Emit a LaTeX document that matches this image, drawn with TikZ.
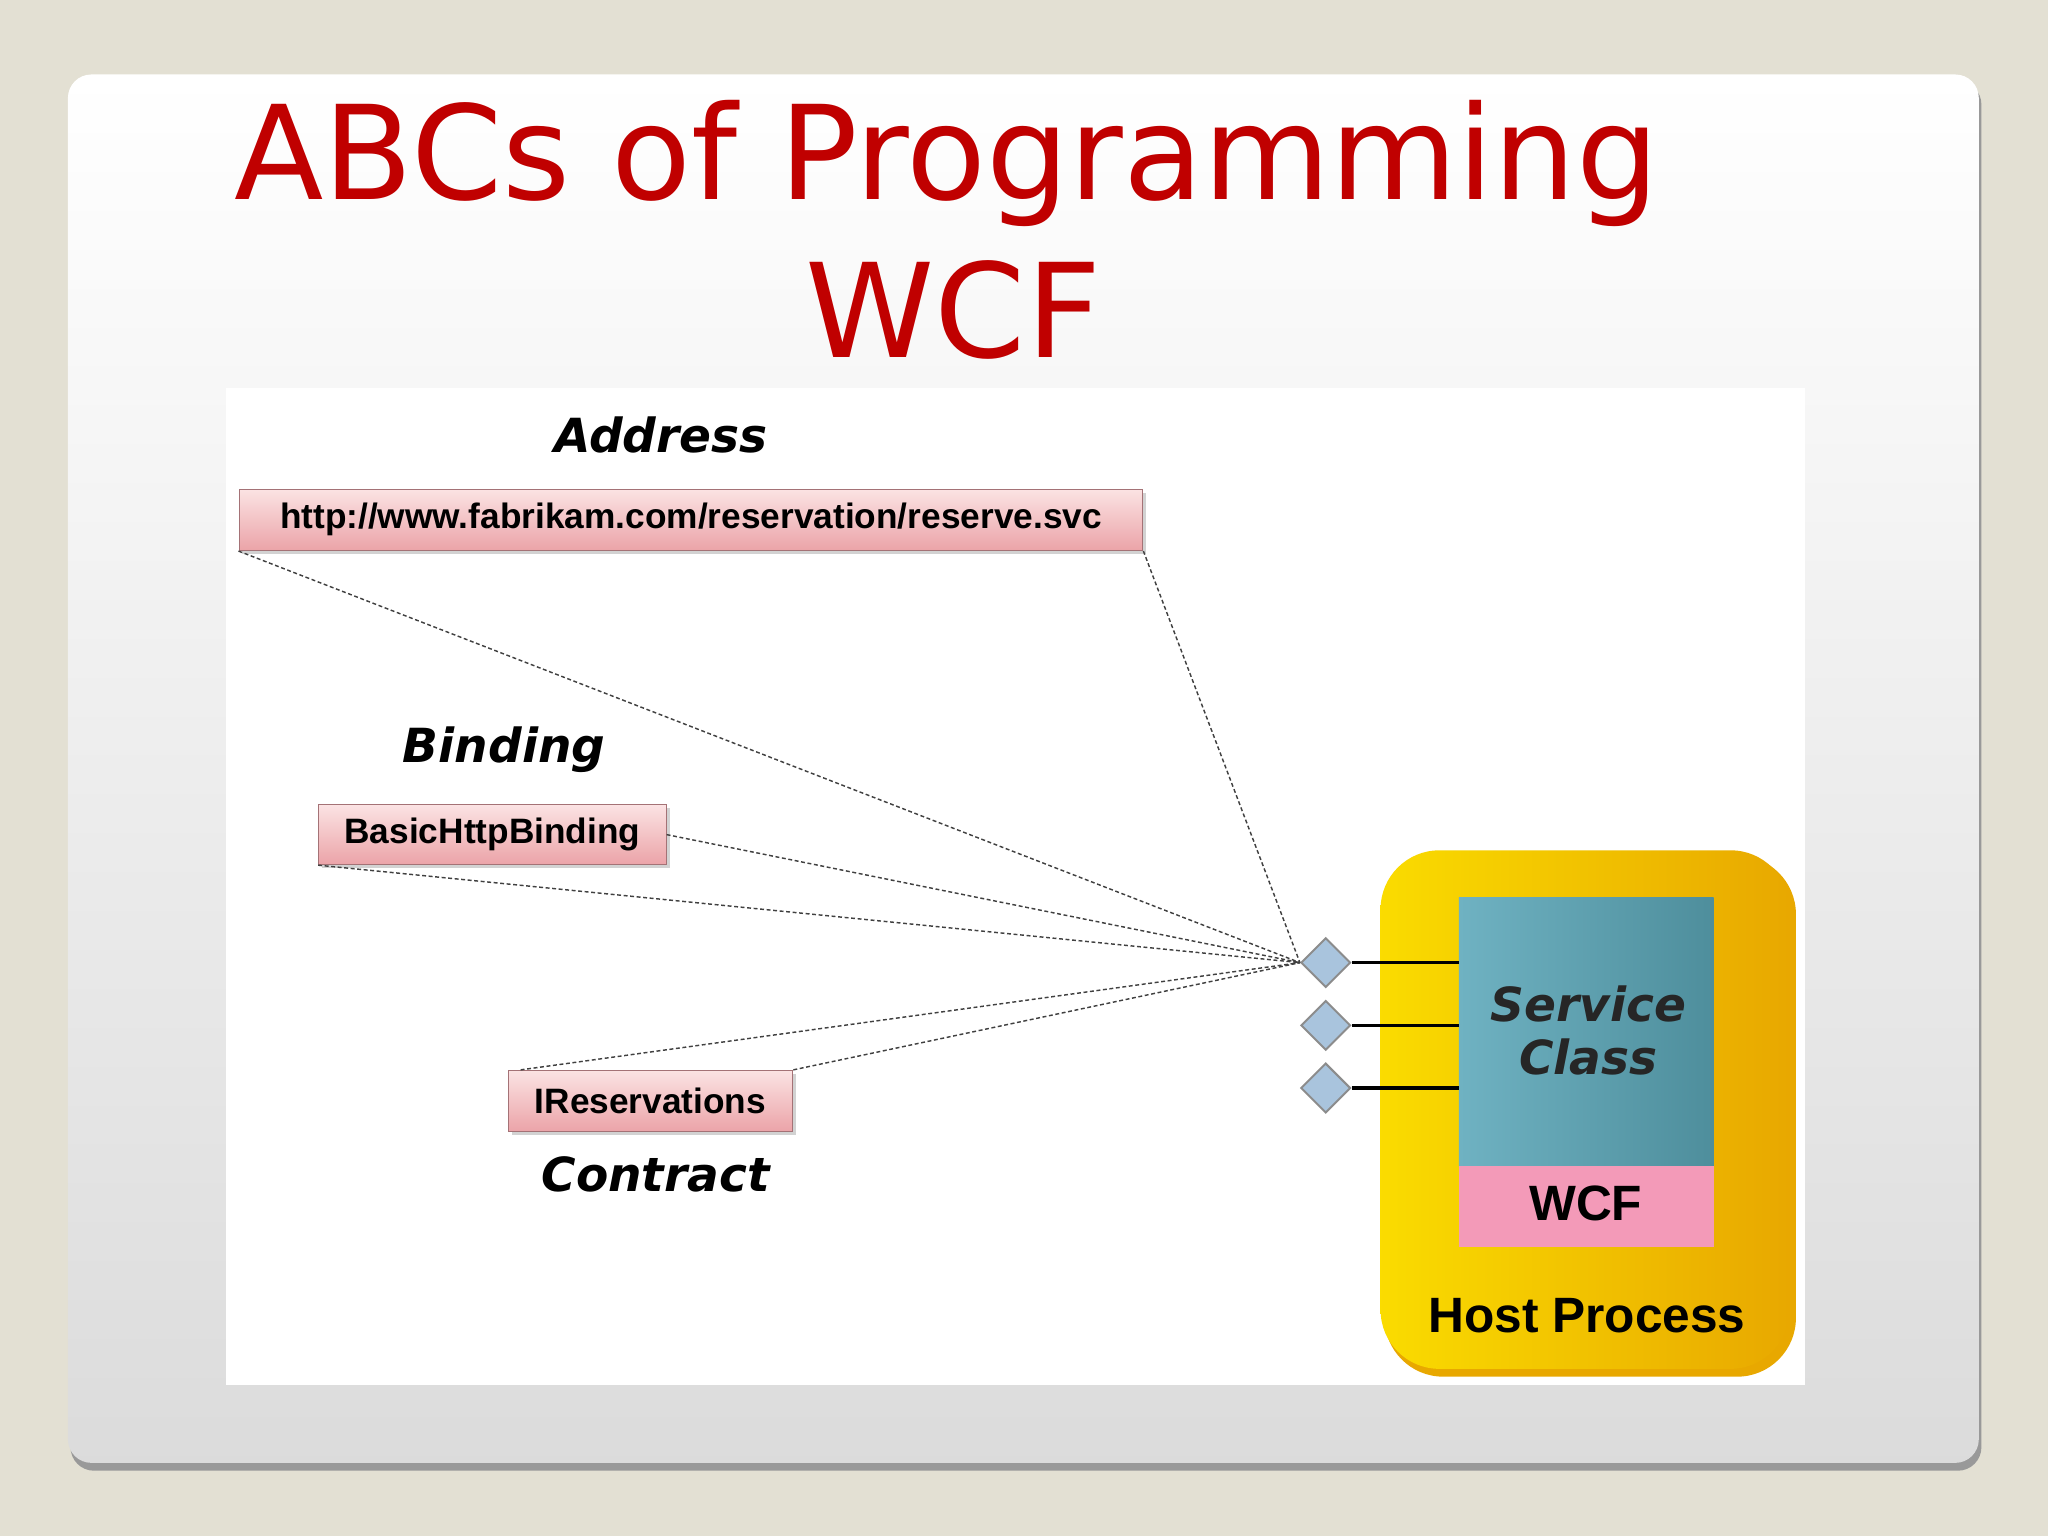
\documentclass[tikz,border=0pt]{standalone}
\usepackage{fontspec}
\setmainfont{Liberation Sans}
\newfontfamily\dvs{DejaVu Sans}
\usetikzlibrary{shapes.geometric,shadows}
\definecolor{bgc}{HTML}{E3E0D3}
\definecolor{tred}{HTML}{C00000}
\definecolor{pinkl}{HTML}{FBE3E3}
\definecolor{pinkd}{HTML}{EBA3A8}
\definecolor{yel}{HTML}{F7C400}
\definecolor{yeld}{HTML}{E8A800}
\definecolor{teal}{HTML}{6FB2C2}
\definecolor{teald}{HTML}{4E8E9C}
\definecolor{wpink}{HTML}{F39AB8}
\definecolor{dia}{HTML}{A9C4DD}
\begin{document}
\begin{tikzpicture}[x=1pt,y=-1pt,
  lbl/.style={font=\dvs\bfseries\itshape\fontsize{36}{40}\selectfont},
  pbox/.style={draw=pinkd!70!black,line width=0.8pt,top color=pinkl,bottom color=pinkd,
    inner sep=0pt,font=\bfseries\fontsize{27}{30}\selectfont,drop shadow={opacity=0.35}},
  dl/.style={densely dashed,line width=1.1pt,black!75},
  dm/.style={diamond,draw=black!45,fill=dia,minimum size=38pt,inner sep=0pt,line width=1.5pt}]
\fill[bgc] (0,0) rectangle (1568,1176);
\useasboundingbox (0,0) rectangle (1568,1176);
\fill[black!40,rounded corners=18pt] (54,62) rectangle (1517,1126);
\shade[top color=white,bottom color=black!14,rounded corners=18pt] (52,57) rectangle (1515,1120);
\node[text=tred,font=\dvs\fontsize{100}{110}\selectfont] (t1) at (725,125) {ABCs of Programming};
\node[text=tred,font=\dvs\fontsize{100}{110}\selectfont] (t2) at (730,237) {WCF};
\fill[white] (173,297) rectangle (1382,1060);
\node[lbl] (addr) at (506,333) {Address};
\node[pbox,minimum width=692pt,minimum height=47pt] (url) at (529,398) {http://www.fabrikam.com/reservation/reserve.svc};
\node[lbl] (bind) at (386,574) {Binding};
\node[pbox,minimum width=266pt,minimum height=46pt] (bb) at (377,639) {BasicHttpBinding};
\node[pbox,minimum width=218pt,minimum height=47pt] (ir) at (498,843) {IReservations};
\node[lbl] (con) at (502,899) {Contract};
% host
\fill[yeld,rounded corners=45pt] (1060,655) rectangle (1375,1054);
\shade[left color=yel!60!yellow,right color=yeld,rounded corners=45pt] (1057,651) rectangle (1370,1048);
\node (host) at (1215,1007) {\fontsize{38}{40}\selectfont\bfseries Host Process};
\shade[top color=teal!80!white,bottom color=teald,left color=teal,right color=teald] (1117,687) rectangle (1312,893);
\node[lbl,align=center,text=black!85] (sc) at (1216,789) {Service\\Class};
\fill[wpink] (1117,893) rectangle (1312,955);
\node (wcf) at (1214,921) {\fontsize{38}{40}\selectfont\bfseries WCF};
\node[dm] (d1) at (1015,737) {};
\node[dm] (d2) at (1015,785) {};
\node[dm] (d3) at (1015,833) {};
\coordinate (s1) at (1117,737);
\coordinate (s2) at (1117,785);
\coordinate (s3) at (1117,833);
\foreach \i in {1,2,3} \draw[line width=2.5pt] (d\i.east) -- (s\i);
\draw[dl] (url.south west) -- (d1.west);
\draw[dl] (url.south east) -- (d1.west);
\draw[dl] (bb.south west) -- (d1.west);
\draw[dl] (bb.east) -- (d1.west);
\draw[dl] ([xshift=10pt]ir.north west) -- (d1.west);
\draw[dl] (ir.north east) -- (d1.west);
\end{tikzpicture}
\end{document}
